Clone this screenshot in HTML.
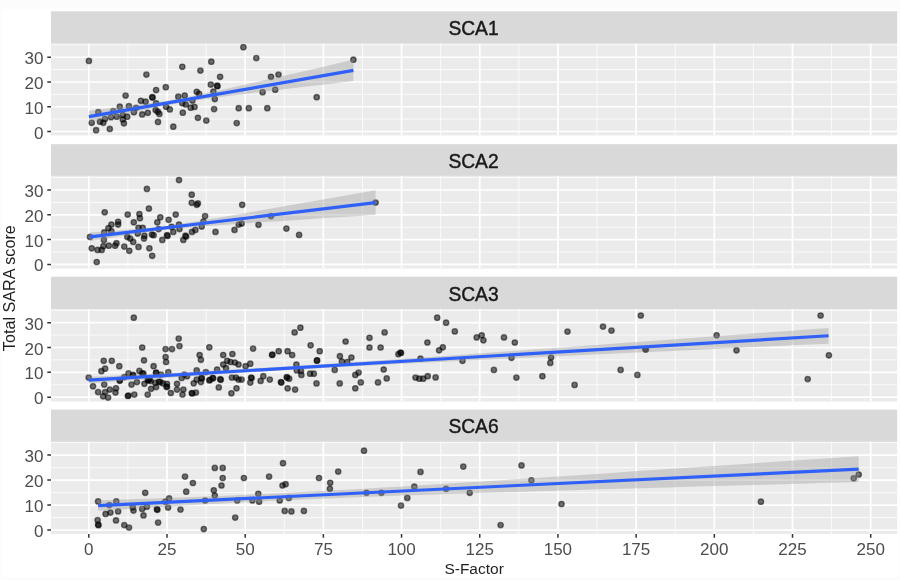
<!DOCTYPE html>
<html><head><meta charset="utf-8"><title>plot</title><style>
html,body{margin:0;padding:0;background:#fcfcfc;width:900px;height:580px;overflow:hidden}
svg{display:block;filter:blur(0.6px)}
text{font-family:"Liberation Sans",sans-serif;}
.tk{font-size:17px;fill:#4d4d4d}
.tt{font-size:15.5px;fill:#1f1f1f}
.st{font-size:21px;fill:#1a1a1a;stroke:#1a1a1a;stroke-width:0.45px}
.p circle{fill:#000;fill-opacity:.55;stroke:#000;stroke-opacity:.5;stroke-width:1.35}
</style></head><body>
<svg width="900" height="580" viewBox="0 0 900 580">
<rect x="0" y="0" width="900" height="580" fill="#fcfcfc"/>
<rect x="2.1" y="9.4" width="896.7" height="567.4" fill="#ffffff"/>
<rect x="51.0" y="11.30" width="846.2" height="32.599999999999994" fill="#d9d9d9"/>
<text class="st" transform="translate(473.5,35.22) scale(0.915,1)" text-anchor="middle">SCA1</text>
<rect x="51.0" y="43.40" width="846.2" height="92.0" fill="#ebebeb"/>
<clipPath id="c0"><rect x="51.0" y="43.40" width="846.2" height="92.0"/></clipPath>
<g clip-path="url(#c0)">
<path d="M51.0 119.12H897.2M51.0 94.38H897.2M51.0 69.62H897.2M51.0 44.88H897.2M127.89 43.40V135.40M206.09 43.40V135.40M284.28 43.40V135.40M362.47 43.40V135.40M440.66 43.40V135.40M518.85 43.40V135.40M597.03 43.40V135.40M675.23 43.40V135.40M753.41 43.40V135.40M831.61 43.40V135.40" stroke="#ffffff" stroke-opacity="0.8" stroke-width="0.95" fill="none"/>
<path d="M51.0 131.50H897.2M51.0 106.75H897.2M51.0 82.00H897.2M51.0 57.25H897.2M88.80 43.40V135.40M166.99 43.40V135.40M245.18 43.40V135.40M323.37 43.40V135.40M401.56 43.40V135.40M479.75 43.40V135.40M557.94 43.40V135.40M636.13 43.40V135.40M714.32 43.40V135.40M792.51 43.40V135.40M870.70 43.40V135.40" stroke="#ffffff" stroke-width="1.7" fill="none"/>
<g class="p">
<circle cx="125.6" cy="95.6" r="2.7"/><circle cx="156.1" cy="90.0" r="2.7"/><circle cx="152.2" cy="97.2" r="2.7"/><circle cx="152.6" cy="97.6" r="2.7"/><circle cx="140.9" cy="100.8" r="2.7"/><circle cx="145.6" cy="101.7" r="2.7"/><circle cx="178.3" cy="96.7" r="2.7"/><circle cx="119.8" cy="106.7" r="2.7"/><circle cx="128.9" cy="106.1" r="2.7"/><circle cx="136.1" cy="107.8" r="2.7"/><circle cx="156.1" cy="103.3" r="2.7"/><circle cx="98.3" cy="112.2" r="2.7"/><circle cx="113.3" cy="111.1" r="2.7"/><circle cx="133.9" cy="112.2" r="2.7"/><circle cx="166.1" cy="106.7" r="2.7"/><circle cx="169.8" cy="109.4" r="2.7"/><circle cx="155.6" cy="110.0" r="2.7"/><circle cx="159.4" cy="113.9" r="2.7"/><circle cx="157.8" cy="111.7" r="2.7"/><circle cx="147.8" cy="112.8" r="2.7"/><circle cx="142.2" cy="114.4" r="2.7"/><circle cx="127.2" cy="116.7" r="2.7"/><circle cx="122.8" cy="115.0" r="2.7"/><circle cx="122.8" cy="119.4" r="2.7"/><circle cx="123.9" cy="123.3" r="2.7"/><circle cx="116.7" cy="116.7" r="2.7"/><circle cx="111.1" cy="117.2" r="2.7"/><circle cx="105.0" cy="118.9" r="2.7"/><circle cx="103.3" cy="122.8" r="2.7"/><circle cx="100.0" cy="121.7" r="2.7"/><circle cx="91.7" cy="122.8" r="2.7"/><circle cx="96.1" cy="130.2" r="2.7"/><circle cx="109.8" cy="128.9" r="2.7"/><circle cx="158.0" cy="121.9" r="2.7"/><circle cx="173.3" cy="126.7" r="2.7"/><circle cx="88.9" cy="60.9" r="2.7"/><circle cx="211.3" cy="61.7" r="2.7"/><circle cx="182.3" cy="66.8" r="2.7"/><circle cx="200.4" cy="70.6" r="2.7"/><circle cx="146.4" cy="74.6" r="2.7"/><circle cx="220.1" cy="76.8" r="2.7"/><circle cx="210.8" cy="84.5" r="2.7"/><circle cx="217.1" cy="85.7" r="2.7"/><circle cx="217.5" cy="86.2" r="2.7"/><circle cx="165.8" cy="87.2" r="2.7"/><circle cx="196.7" cy="91.8" r="2.7"/><circle cx="199.1" cy="93.8" r="2.7"/><circle cx="213.4" cy="91.5" r="2.7"/><circle cx="214.8" cy="99.0" r="2.7"/><circle cx="192.4" cy="100.5" r="2.7"/><circle cx="182.3" cy="103.2" r="2.7"/><circle cx="185.7" cy="104.4" r="2.7"/><circle cx="190.7" cy="107.7" r="2.7"/><circle cx="194.5" cy="106.9" r="2.7"/><circle cx="214.1" cy="109.1" r="2.7"/><circle cx="182.8" cy="112.7" r="2.7"/><circle cx="197.9" cy="117.8" r="2.7"/><circle cx="206.3" cy="120.6" r="2.7"/><circle cx="184.7" cy="95.5" r="2.7"/><circle cx="243.4" cy="47.2" r="2.7"/><circle cx="256.3" cy="58.1" r="2.7"/><circle cx="353.4" cy="59.7" r="2.7"/><circle cx="278.5" cy="74.6" r="2.7"/><circle cx="271.0" cy="76.8" r="2.7"/><circle cx="275.2" cy="89.7" r="2.7"/><circle cx="262.6" cy="92.2" r="2.7"/><circle cx="316.7" cy="97.2" r="2.7"/><circle cx="238.7" cy="108.2" r="2.7"/><circle cx="248.8" cy="108.2" r="2.7"/><circle cx="267.3" cy="108.2" r="2.7"/><circle cx="236.7" cy="123.1" r="2.7"/>
</g>
<path d="M88.9 110.92L95.5 110.12L102.1 109.31L108.7 108.50L115.4 107.68L122.0 106.85L128.6 106.00L135.2 105.14L141.8 104.26L148.4 103.35L155.0 102.41L161.6 101.42L168.2 100.38L174.9 99.28L181.5 98.11L188.1 96.88L194.7 95.59L201.3 94.25L207.9 92.87L214.5 91.46L221.2 90.03L227.8 88.57L234.4 87.10L241.0 85.61L247.6 84.12L254.2 82.62L260.8 81.12L267.4 79.60L274.0 78.09L280.7 76.57L287.3 75.05L293.9 73.53L300.5 72.00L307.1 70.47L313.7 68.94L320.3 67.41L327.0 65.88L333.6 64.35L340.2 62.81L346.8 61.28L353.4 59.74L353.4 81.06L346.8 81.83L340.2 82.61L333.6 83.38L327.0 84.16L320.3 84.94L313.7 85.72L307.1 86.50L300.5 87.28L293.9 88.06L287.3 88.85L280.7 89.64L274.0 90.43L267.4 91.23L260.8 92.02L254.2 92.83L247.6 93.64L241.0 94.46L234.4 95.28L227.8 96.12L221.2 96.97L214.5 97.85L207.9 98.75L201.3 99.68L194.7 100.65L188.1 101.67L181.5 102.75L174.9 103.89L168.2 105.10L161.6 106.37L155.0 107.69L148.4 109.06L141.8 110.46L135.2 111.89L128.6 113.34L122.0 114.80L115.4 116.28L108.7 117.77L102.1 119.27L95.5 120.77L88.9 122.28Z" fill="#999999" fill-opacity="0.37"/>
<line x1="88.9" y1="116.6" x2="353.4" y2="70.4" stroke="#2f60f8" stroke-width="3.15"/>
</g>
<text class="tk" x="43.4" y="138.52" text-anchor="end">0</text>
<text class="tk" x="43.4" y="113.77" text-anchor="end">10</text>
<text class="tk" x="43.4" y="89.02" text-anchor="end">20</text>
<text class="tk" x="43.4" y="64.27" text-anchor="end">30</text>
<path d="M47.30 131.50H51.0M47.30 106.75H51.0M47.30 82.00H51.0M47.30 57.25H51.0" stroke="#333333" stroke-width="1.5" fill="none"/>
<rect x="51.0" y="144.20" width="846.2" height="32.0" fill="#d9d9d9"/>
<text class="st" transform="translate(473.5,167.82) scale(0.915,1)" text-anchor="middle">SCA2</text>
<rect x="51.0" y="175.70" width="846.2" height="92.90000000000003" fill="#ebebeb"/>
<clipPath id="c1"><rect x="51.0" y="175.70" width="846.2" height="92.90000000000003"/></clipPath>
<g clip-path="url(#c1)">
<path d="M51.0 252.00H897.2M51.0 227.20H897.2M51.0 202.40H897.2M51.0 177.60H897.2M127.89 175.70V268.60M206.09 175.70V268.60M284.28 175.70V268.60M362.47 175.70V268.60M440.66 175.70V268.60M518.85 175.70V268.60M597.03 175.70V268.60M675.23 175.70V268.60M753.41 175.70V268.60M831.61 175.70V268.60" stroke="#ffffff" stroke-opacity="0.8" stroke-width="0.95" fill="none"/>
<path d="M51.0 264.40H897.2M51.0 239.60H897.2M51.0 214.80H897.2M51.0 190.00H897.2M88.80 175.70V268.60M166.99 175.70V268.60M245.18 175.70V268.60M323.37 175.70V268.60M401.56 175.70V268.60M479.75 175.70V268.60M557.94 175.70V268.60M636.13 175.70V268.60M714.32 175.70V268.60M792.51 175.70V268.60M870.70 175.70V268.60" stroke="#ffffff" stroke-width="1.7" fill="none"/>
<g class="p">
<circle cx="179.0" cy="180.0" r="2.7"/><circle cx="146.9" cy="188.9" r="2.7"/><circle cx="191.7" cy="194.7" r="2.7"/><circle cx="191.7" cy="202.8" r="2.7"/><circle cx="197.9" cy="203.4" r="2.7"/><circle cx="196.7" cy="204.8" r="2.7"/><circle cx="104.7" cy="212.3" r="2.7"/><circle cx="148.9" cy="208.5" r="2.7"/><circle cx="127.7" cy="214.5" r="2.7"/><circle cx="139.4" cy="214.0" r="2.7"/><circle cx="139.9" cy="218.2" r="2.7"/><circle cx="175.7" cy="214.5" r="2.7"/><circle cx="160.3" cy="217.3" r="2.7"/><circle cx="205.1" cy="216.1" r="2.7"/><circle cx="168.6" cy="219.8" r="2.7"/><circle cx="157.3" cy="222.3" r="2.7"/><circle cx="133.8" cy="222.3" r="2.7"/><circle cx="118.1" cy="221.8" r="2.7"/><circle cx="118.1" cy="224.5" r="2.7"/><circle cx="111.4" cy="224.5" r="2.7"/><circle cx="108.4" cy="228.2" r="2.7"/><circle cx="111.4" cy="231.2" r="2.7"/><circle cx="104.2" cy="232.4" r="2.7"/><circle cx="203.4" cy="221.5" r="2.7"/><circle cx="201.7" cy="226.5" r="2.7"/><circle cx="179.0" cy="224.5" r="2.7"/><circle cx="179.5" cy="229.0" r="2.7"/><circle cx="171.6" cy="226.8" r="2.7"/><circle cx="173.3" cy="231.9" r="2.7"/><circle cx="138.5" cy="227.8" r="2.7"/><circle cx="142.7" cy="227.8" r="2.7"/><circle cx="158.6" cy="229.0" r="2.7"/><circle cx="137.7" cy="233.5" r="2.7"/><circle cx="144.4" cy="235.7" r="2.7"/><circle cx="144.0" cy="238.6" r="2.7"/><circle cx="151.9" cy="234.5" r="2.7"/><circle cx="153.6" cy="235.2" r="2.7"/><circle cx="167.0" cy="235.2" r="2.7"/><circle cx="167.6" cy="235.9" r="2.7"/><circle cx="195.4" cy="229.9" r="2.7"/><circle cx="192.0" cy="231.9" r="2.7"/><circle cx="215.5" cy="231.9" r="2.7"/><circle cx="185.4" cy="235.7" r="2.7"/><circle cx="186.2" cy="236.5" r="2.7"/><circle cx="183.3" cy="239.9" r="2.7"/><circle cx="162.3" cy="239.9" r="2.7"/><circle cx="90.0" cy="236.9" r="2.7"/><circle cx="103.9" cy="239.9" r="2.7"/><circle cx="127.3" cy="236.9" r="2.7"/><circle cx="130.2" cy="238.6" r="2.7"/><circle cx="133.2" cy="241.9" r="2.7"/><circle cx="116.5" cy="243.2" r="2.7"/><circle cx="115.1" cy="245.7" r="2.7"/><circle cx="108.8" cy="245.7" r="2.7"/><circle cx="103.4" cy="246.2" r="2.7"/><circle cx="101.7" cy="249.9" r="2.7"/><circle cx="97.6" cy="249.9" r="2.7"/><circle cx="91.7" cy="248.3" r="2.7"/><circle cx="124.3" cy="246.6" r="2.7"/><circle cx="129.3" cy="250.8" r="2.7"/><circle cx="138.5" cy="246.9" r="2.7"/><circle cx="149.4" cy="248.3" r="2.7"/><circle cx="152.2" cy="255.8" r="2.7"/><circle cx="96.7" cy="262.0" r="2.7"/><circle cx="242.2" cy="204.8" r="2.7"/><circle cx="271.0" cy="216.1" r="2.7"/><circle cx="241.7" cy="223.5" r="2.7"/><circle cx="238.7" cy="224.5" r="2.7"/><circle cx="234.5" cy="229.9" r="2.7"/><circle cx="258.5" cy="224.8" r="2.7"/><circle cx="286.4" cy="228.5" r="2.7"/><circle cx="299.1" cy="234.9" r="2.7"/><circle cx="375.6" cy="202.6" r="2.7"/>
</g>
<path d="M90.0 232.50L97.1 231.99L104.3 231.48L111.4 230.95L118.6 230.41L125.7 229.84L132.8 229.24L140.0 228.60L147.1 227.91L154.3 227.16L161.4 226.32L168.5 225.41L175.7 224.43L182.8 223.38L190.0 222.28L197.1 221.15L204.2 220.00L211.4 218.82L218.5 217.63L225.7 216.42L232.8 215.21L239.9 213.99L247.1 212.76L254.2 211.53L261.4 210.30L268.5 209.07L275.6 207.83L282.8 206.59L289.9 205.34L297.1 204.10L304.2 202.86L311.3 201.61L318.5 200.36L325.6 199.11L332.8 197.87L339.9 196.62L347.0 195.37L354.2 194.12L361.3 192.87L368.5 191.61L375.6 190.36L375.6 214.84L368.5 215.30L361.3 215.76L354.2 216.23L347.0 216.69L339.9 217.16L332.8 217.62L325.6 218.09L318.5 218.56L311.3 219.03L304.2 219.49L297.1 219.96L289.9 220.44L282.8 220.91L275.6 221.38L268.5 221.86L261.4 222.34L254.2 222.82L247.1 223.31L239.9 223.80L232.8 224.29L225.7 224.79L218.5 225.30L211.4 225.83L204.2 226.36L197.1 226.92L190.0 227.51L182.8 228.13L175.7 228.79L168.5 229.52L161.4 230.33L154.3 231.21L147.1 232.17L140.0 233.19L132.8 234.27L125.7 235.39L118.6 236.53L111.4 237.70L104.3 238.89L97.1 240.09L90.0 241.30Z" fill="#999999" fill-opacity="0.37"/>
<line x1="90.0" y1="236.9" x2="375.6" y2="202.6" stroke="#2f60f8" stroke-width="3.15"/>
</g>
<text class="tk" x="43.4" y="271.42" text-anchor="end">0</text>
<text class="tk" x="43.4" y="246.62" text-anchor="end">10</text>
<text class="tk" x="43.4" y="221.82" text-anchor="end">20</text>
<text class="tk" x="43.4" y="197.02" text-anchor="end">30</text>
<path d="M47.30 264.40H51.0M47.30 239.60H51.0M47.30 214.80H51.0M47.30 190.00H51.0" stroke="#333333" stroke-width="1.5" fill="none"/>
<rect x="51.0" y="276.70" width="846.2" height="32.80000000000001" fill="#d9d9d9"/>
<text class="st" transform="translate(473.5,300.72) scale(0.915,1)" text-anchor="middle">SCA3</text>
<rect x="51.0" y="309.00" width="846.2" height="92.60000000000002" fill="#ebebeb"/>
<clipPath id="c2"><rect x="51.0" y="309.00" width="846.2" height="92.60000000000002"/></clipPath>
<g clip-path="url(#c2)">
<path d="M51.0 384.77H897.2M51.0 359.93H897.2M51.0 335.07H897.2M51.0 310.23H897.2M127.89 309.00V401.60M206.09 309.00V401.60M284.28 309.00V401.60M362.47 309.00V401.60M440.66 309.00V401.60M518.85 309.00V401.60M597.03 309.00V401.60M675.23 309.00V401.60M753.41 309.00V401.60M831.61 309.00V401.60" stroke="#ffffff" stroke-opacity="0.8" stroke-width="0.95" fill="none"/>
<path d="M51.0 397.20H897.2M51.0 372.35H897.2M51.0 347.50H897.2M51.0 322.65H897.2M88.80 309.00V401.60M166.99 309.00V401.60M245.18 309.00V401.60M323.37 309.00V401.60M401.56 309.00V401.60M479.75 309.00V401.60M557.94 309.00V401.60M636.13 309.00V401.60M714.32 309.00V401.60M792.51 309.00V401.60M870.70 309.00V401.60" stroke="#ffffff" stroke-width="1.7" fill="none"/>
<g class="p">
<circle cx="133.8" cy="317.7" r="2.7"/><circle cx="142.2" cy="347.5" r="2.7"/><circle cx="178.7" cy="338.6" r="2.7"/><circle cx="179.5" cy="346.1" r="2.7"/><circle cx="165.6" cy="349.1" r="2.7"/><circle cx="172.0" cy="349.1" r="2.7"/><circle cx="165.6" cy="357.0" r="2.7"/><circle cx="166.1" cy="362.0" r="2.7"/><circle cx="103.7" cy="360.8" r="2.7"/><circle cx="111.8" cy="360.8" r="2.7"/><circle cx="144.0" cy="360.3" r="2.7"/><circle cx="119.3" cy="366.2" r="2.7"/><circle cx="153.6" cy="366.2" r="2.7"/><circle cx="105.1" cy="368.7" r="2.7"/><circle cx="101.4" cy="371.2" r="2.7"/><circle cx="139.4" cy="370.9" r="2.7"/><circle cx="156.1" cy="372.6" r="2.7"/><circle cx="168.3" cy="372.1" r="2.7"/><circle cx="128.5" cy="373.4" r="2.7"/><circle cx="133.2" cy="374.9" r="2.7"/><circle cx="143.5" cy="373.7" r="2.7"/><circle cx="161.1" cy="374.6" r="2.7"/><circle cx="88.7" cy="377.6" r="2.7"/><circle cx="124.3" cy="377.1" r="2.7"/><circle cx="119.8" cy="380.1" r="2.7"/><circle cx="147.7" cy="380.4" r="2.7"/><circle cx="148.5" cy="380.0" r="2.7"/><circle cx="149.4" cy="379.6" r="2.7"/><circle cx="136.9" cy="382.1" r="2.7"/><circle cx="131.5" cy="384.6" r="2.7"/><circle cx="144.4" cy="383.8" r="2.7"/><circle cx="104.2" cy="384.6" r="2.7"/><circle cx="93.0" cy="386.3" r="2.7"/><circle cx="155.3" cy="382.9" r="2.7"/><circle cx="160.3" cy="382.1" r="2.7"/><circle cx="167.0" cy="383.8" r="2.7"/><circle cx="167.0" cy="387.1" r="2.7"/><circle cx="166.5" cy="386.5" r="2.7"/><circle cx="177.0" cy="383.8" r="2.7"/><circle cx="177.0" cy="389.6" r="2.7"/><circle cx="156.1" cy="387.1" r="2.7"/><circle cx="151.1" cy="388.8" r="2.7"/><circle cx="116.0" cy="388.3" r="2.7"/><circle cx="109.8" cy="389.6" r="2.7"/><circle cx="98.1" cy="392.1" r="2.7"/><circle cx="105.1" cy="392.1" r="2.7"/><circle cx="115.5" cy="392.6" r="2.7"/><circle cx="103.1" cy="396.3" r="2.7"/><circle cx="108.1" cy="397.6" r="2.7"/><circle cx="128.5" cy="395.5" r="2.7"/><circle cx="127.8" cy="396.0" r="2.7"/><circle cx="134.3" cy="394.6" r="2.7"/><circle cx="147.7" cy="394.6" r="2.7"/><circle cx="170.8" cy="393.0" r="2.7"/><circle cx="209.3" cy="347.3" r="2.7"/><circle cx="253.1" cy="348.6" r="2.7"/><circle cx="199.6" cy="355.0" r="2.7"/><circle cx="223.2" cy="355.0" r="2.7"/><circle cx="232.4" cy="354.0" r="2.7"/><circle cx="272.5" cy="354.5" r="2.7"/><circle cx="272.0" cy="355.0" r="2.7"/><circle cx="200.9" cy="359.8" r="2.7"/><circle cx="227.2" cy="360.8" r="2.7"/><circle cx="230.5" cy="362.0" r="2.7"/><circle cx="234.9" cy="362.5" r="2.7"/><circle cx="223.2" cy="364.5" r="2.7"/><circle cx="238.5" cy="364.5" r="2.7"/><circle cx="250.3" cy="363.7" r="2.7"/><circle cx="245.6" cy="366.2" r="2.7"/><circle cx="226.0" cy="368.2" r="2.7"/><circle cx="217.1" cy="369.5" r="2.7"/><circle cx="196.7" cy="370.4" r="2.7"/><circle cx="205.9" cy="372.1" r="2.7"/><circle cx="184.2" cy="374.6" r="2.7"/><circle cx="181.7" cy="377.9" r="2.7"/><circle cx="187.0" cy="376.2" r="2.7"/><circle cx="196.7" cy="379.6" r="2.7"/><circle cx="201.4" cy="377.9" r="2.7"/><circle cx="201.9" cy="378.4" r="2.7"/><circle cx="200.9" cy="382.1" r="2.7"/><circle cx="193.7" cy="383.3" r="2.7"/><circle cx="209.3" cy="380.4" r="2.7"/><circle cx="210.0" cy="379.8" r="2.7"/><circle cx="212.6" cy="377.9" r="2.7"/><circle cx="213.2" cy="378.3" r="2.7"/><circle cx="220.2" cy="379.2" r="2.7"/><circle cx="220.8" cy="379.8" r="2.7"/><circle cx="231.9" cy="377.6" r="2.7"/><circle cx="236.0" cy="377.6" r="2.7"/><circle cx="238.5" cy="379.6" r="2.7"/><circle cx="241.6" cy="379.6" r="2.7"/><circle cx="251.1" cy="377.6" r="2.7"/><circle cx="251.6" cy="378.0" r="2.7"/><circle cx="250.3" cy="382.6" r="2.7"/><circle cx="263.3" cy="376.2" r="2.7"/><circle cx="260.6" cy="380.9" r="2.7"/><circle cx="269.8" cy="379.6" r="2.7"/><circle cx="183.4" cy="389.6" r="2.7"/><circle cx="182.5" cy="394.6" r="2.7"/><circle cx="191.7" cy="393.0" r="2.7"/><circle cx="192.3" cy="393.5" r="2.7"/><circle cx="195.9" cy="392.6" r="2.7"/><circle cx="218.8" cy="387.4" r="2.7"/><circle cx="236.5" cy="388.3" r="2.7"/><circle cx="231.4" cy="393.3" r="2.7"/><circle cx="300.4" cy="327.7" r="2.7"/><circle cx="294.6" cy="332.4" r="2.7"/><circle cx="345.6" cy="341.5" r="2.7"/><circle cx="369.5" cy="337.8" r="2.7"/><circle cx="369.5" cy="347.5" r="2.7"/><circle cx="310.6" cy="345.3" r="2.7"/><circle cx="278.7" cy="351.2" r="2.7"/><circle cx="287.6" cy="351.2" r="2.7"/><circle cx="292.2" cy="355.0" r="2.7"/><circle cx="319.7" cy="351.2" r="2.7"/><circle cx="317.2" cy="360.3" r="2.7"/><circle cx="316.8" cy="360.7" r="2.7"/><circle cx="339.9" cy="356.2" r="2.7"/><circle cx="351.4" cy="357.5" r="2.7"/><circle cx="341.9" cy="361.5" r="2.7"/><circle cx="347.3" cy="362.0" r="2.7"/><circle cx="296.4" cy="364.5" r="2.7"/><circle cx="296.8" cy="370.4" r="2.7"/><circle cx="300.9" cy="370.9" r="2.7"/><circle cx="301.4" cy="374.9" r="2.7"/><circle cx="310.1" cy="373.7" r="2.7"/><circle cx="313.8" cy="373.7" r="2.7"/><circle cx="334.7" cy="369.9" r="2.7"/><circle cx="358.6" cy="372.6" r="2.7"/><circle cx="355.3" cy="374.9" r="2.7"/><circle cx="286.7" cy="377.1" r="2.7"/><circle cx="287.2" cy="377.6" r="2.7"/><circle cx="289.2" cy="378.7" r="2.7"/><circle cx="280.9" cy="382.1" r="2.7"/><circle cx="281.4" cy="382.6" r="2.7"/><circle cx="316.5" cy="383.4" r="2.7"/><circle cx="339.7" cy="383.4" r="2.7"/><circle cx="360.8" cy="382.4" r="2.7"/><circle cx="287.6" cy="388.3" r="2.7"/><circle cx="295.1" cy="389.6" r="2.7"/><circle cx="355.3" cy="388.3" r="2.7"/><circle cx="437.2" cy="317.7" r="2.7"/><circle cx="446.1" cy="322.7" r="2.7"/><circle cx="454.8" cy="331.4" r="2.7"/><circle cx="384.6" cy="332.4" r="2.7"/><circle cx="427.4" cy="342.5" r="2.7"/><circle cx="380.6" cy="347.5" r="2.7"/><circle cx="442.8" cy="347.3" r="2.7"/><circle cx="439.1" cy="350.3" r="2.7"/><circle cx="400.5" cy="352.5" r="2.7"/><circle cx="401.0" cy="353.0" r="2.7"/><circle cx="398.4" cy="354.2" r="2.7"/><circle cx="420.5" cy="358.7" r="2.7"/><circle cx="462.5" cy="360.8" r="2.7"/><circle cx="383.7" cy="369.5" r="2.7"/><circle cx="386.7" cy="378.4" r="2.7"/><circle cx="378.0" cy="382.4" r="2.7"/><circle cx="415.5" cy="377.6" r="2.7"/><circle cx="419.3" cy="378.7" r="2.7"/><circle cx="423.2" cy="378.7" r="2.7"/><circle cx="427.7" cy="376.2" r="2.7"/><circle cx="435.6" cy="377.4" r="2.7"/><circle cx="481.7" cy="335.3" r="2.7"/><circle cx="476.7" cy="337.4" r="2.7"/><circle cx="483.4" cy="340.3" r="2.7"/><circle cx="504.0" cy="337.4" r="2.7"/><circle cx="514.8" cy="342.5" r="2.7"/><circle cx="511.5" cy="357.8" r="2.7"/><circle cx="551.1" cy="357.5" r="2.7"/><circle cx="550.3" cy="362.9" r="2.7"/><circle cx="493.9" cy="369.9" r="2.7"/><circle cx="516.4" cy="377.6" r="2.7"/><circle cx="542.4" cy="376.2" r="2.7"/><circle cx="640.8" cy="315.5" r="2.7"/><circle cx="603.0" cy="326.6" r="2.7"/><circle cx="611.5" cy="330.6" r="2.7"/><circle cx="567.5" cy="331.6" r="2.7"/><circle cx="645.3" cy="349.1" r="2.7"/><circle cx="645.9" cy="349.5" r="2.7"/><circle cx="620.6" cy="369.9" r="2.7"/><circle cx="637.4" cy="374.9" r="2.7"/><circle cx="574.6" cy="384.9" r="2.7"/><circle cx="132.8" cy="375.6" r="2.7"/><circle cx="156.1" cy="372.8" r="2.7"/><circle cx="142.2" cy="373.3" r="2.7"/><circle cx="119.7" cy="380.8" r="2.7"/><circle cx="150.6" cy="381.1" r="2.7"/><circle cx="158.9" cy="381.7" r="2.7"/><circle cx="162.8" cy="383.3" r="2.7"/><circle cx="716.6" cy="335.3" r="2.7"/><circle cx="736.5" cy="350.3" r="2.7"/><circle cx="820.6" cy="315.5" r="2.7"/><circle cx="828.9" cy="355.3" r="2.7"/><circle cx="807.7" cy="379.1" r="2.7"/>
</g>
<path d="M88.7 376.85L107.2 375.95L125.7 375.05L144.2 374.14L162.7 373.21L181.2 372.28L199.7 371.32L218.2 370.34L236.7 369.33L255.2 368.29L273.7 367.22L292.2 366.11L310.7 364.97L329.2 363.79L347.7 362.57L366.2 361.34L384.7 360.08L403.2 358.80L421.7 357.51L440.2 356.20L458.6 354.89L477.1 353.57L495.6 352.24L514.1 350.91L532.6 349.58L551.1 348.24L569.6 346.89L588.1 345.55L606.6 344.20L625.1 342.85L643.6 341.50L662.1 340.15L680.6 338.80L699.1 337.44L717.6 336.09L736.1 334.73L754.6 333.37L773.1 332.02L791.6 330.66L810.1 329.30L828.6 327.94L828.6 343.66L810.1 344.52L791.6 345.37L773.1 346.23L754.6 347.09L736.1 347.94L717.6 348.80L699.1 349.66L680.6 350.52L662.1 351.39L643.6 352.25L625.1 353.11L606.6 353.98L588.1 354.85L569.6 355.72L551.1 356.59L532.6 357.46L514.1 358.34L495.6 359.23L477.1 360.11L458.6 361.01L440.2 361.91L421.7 362.82L403.2 363.75L384.7 364.68L366.2 365.64L347.7 366.62L329.2 367.62L310.7 368.65L292.2 369.72L273.7 370.83L255.2 371.97L236.7 373.15L218.2 374.36L199.7 375.59L181.2 376.85L162.7 378.13L144.2 379.42L125.7 380.72L107.2 382.03L88.7 383.35Z" fill="#999999" fill-opacity="0.37"/>
<line x1="88.7" y1="380.1" x2="828.6" y2="335.8" stroke="#2f60f8" stroke-width="3.15"/>
</g>
<text class="tk" x="43.4" y="404.22" text-anchor="end">0</text>
<text class="tk" x="43.4" y="379.37" text-anchor="end">10</text>
<text class="tk" x="43.4" y="354.52" text-anchor="end">20</text>
<text class="tk" x="43.4" y="329.67" text-anchor="end">30</text>
<path d="M47.30 397.20H51.0M47.30 372.35H51.0M47.30 347.50H51.0M47.30 322.65H51.0" stroke="#333333" stroke-width="1.5" fill="none"/>
<rect x="51.0" y="409.60" width="846.2" height="32.5" fill="#d9d9d9"/>
<text class="st" transform="translate(473.5,433.47) scale(0.915,1)" text-anchor="middle">SCA6</text>
<rect x="51.0" y="441.60" width="846.2" height="92.39999999999998" fill="#ebebeb"/>
<clipPath id="c3"><rect x="51.0" y="441.60" width="846.2" height="92.39999999999998"/></clipPath>
<g clip-path="url(#c3)">
<path d="M51.0 517.60H897.2M51.0 492.60H897.2M51.0 467.60H897.2M51.0 442.60H897.2M127.89 441.60V534.00M206.09 441.60V534.00M284.28 441.60V534.00M362.47 441.60V534.00M440.66 441.60V534.00M518.85 441.60V534.00M597.03 441.60V534.00M675.23 441.60V534.00M753.41 441.60V534.00M831.61 441.60V534.00" stroke="#ffffff" stroke-opacity="0.8" stroke-width="0.95" fill="none"/>
<path d="M51.0 530.10H897.2M51.0 505.10H897.2M51.0 480.10H897.2M51.0 455.10H897.2M88.80 441.60V534.00M166.99 441.60V534.00M245.18 441.60V534.00M323.37 441.60V534.00M401.56 441.60V534.00M479.75 441.60V534.00M557.94 441.60V534.00M636.13 441.60V534.00M714.32 441.60V534.00M792.51 441.60V534.00M870.70 441.60V534.00" stroke="#ffffff" stroke-width="1.7" fill="none"/>
<g class="p">
<circle cx="145.2" cy="492.8" r="2.7"/><circle cx="169.1" cy="498.4" r="2.7"/><circle cx="165.3" cy="501.7" r="2.7"/><circle cx="98.1" cy="501.4" r="2.7"/><circle cx="116.3" cy="501.4" r="2.7"/><circle cx="109.3" cy="505.1" r="2.7"/><circle cx="132.7" cy="507.2" r="2.7"/><circle cx="146.9" cy="506.7" r="2.7"/><circle cx="142.2" cy="508.9" r="2.7"/><circle cx="133.5" cy="510.6" r="2.7"/><circle cx="156.9" cy="509.2" r="2.7"/><circle cx="157.4" cy="509.8" r="2.7"/><circle cx="168.1" cy="507.6" r="2.7"/><circle cx="180.5" cy="509.6" r="2.7"/><circle cx="118.1" cy="511.4" r="2.7"/><circle cx="110.4" cy="512.6" r="2.7"/><circle cx="105.6" cy="513.9" r="2.7"/><circle cx="143.5" cy="515.4" r="2.7"/><circle cx="97.6" cy="520.1" r="2.7"/><circle cx="98.1" cy="524.6" r="2.7"/><circle cx="98.5" cy="525.2" r="2.7"/><circle cx="116.0" cy="520.4" r="2.7"/><circle cx="124.3" cy="525.1" r="2.7"/><circle cx="129.0" cy="527.6" r="2.7"/><circle cx="158.1" cy="522.6" r="2.7"/><circle cx="214.8" cy="467.9" r="2.7"/><circle cx="222.7" cy="467.9" r="2.7"/><circle cx="185.0" cy="476.6" r="2.7"/><circle cx="222.7" cy="478.0" r="2.7"/><circle cx="243.9" cy="478.0" r="2.7"/><circle cx="269.1" cy="476.6" r="2.7"/><circle cx="192.9" cy="483.0" r="2.7"/><circle cx="221.5" cy="485.5" r="2.7"/><circle cx="213.8" cy="490.3" r="2.7"/><circle cx="186.2" cy="491.7" r="2.7"/><circle cx="214.8" cy="495.5" r="2.7"/><circle cx="258.3" cy="493.8" r="2.7"/><circle cx="205.1" cy="500.5" r="2.7"/><circle cx="237.2" cy="500.5" r="2.7"/><circle cx="252.4" cy="500.5" r="2.7"/><circle cx="259.1" cy="501.7" r="2.7"/><circle cx="235.2" cy="517.6" r="2.7"/><circle cx="203.8" cy="529.0" r="2.7"/><circle cx="364.0" cy="450.7" r="2.7"/><circle cx="283.0" cy="463.2" r="2.7"/><circle cx="338.2" cy="471.6" r="2.7"/><circle cx="319.0" cy="478.0" r="2.7"/><circle cx="330.2" cy="482.8" r="2.7"/><circle cx="285.6" cy="484.2" r="2.7"/><circle cx="282.5" cy="485.5" r="2.7"/><circle cx="329.9" cy="488.8" r="2.7"/><circle cx="366.5" cy="492.8" r="2.7"/><circle cx="288.9" cy="497.9" r="2.7"/><circle cx="279.7" cy="500.5" r="2.7"/><circle cx="284.7" cy="510.9" r="2.7"/><circle cx="291.4" cy="511.4" r="2.7"/><circle cx="303.9" cy="510.9" r="2.7"/><circle cx="463.3" cy="466.6" r="2.7"/><circle cx="420.5" cy="471.9" r="2.7"/><circle cx="414.3" cy="486.7" r="2.7"/><circle cx="446.1" cy="488.8" r="2.7"/><circle cx="381.4" cy="492.8" r="2.7"/><circle cx="407.3" cy="497.9" r="2.7"/><circle cx="401.0" cy="505.6" r="2.7"/><circle cx="521.5" cy="465.4" r="2.7"/><circle cx="531.4" cy="480.3" r="2.7"/><circle cx="469.7" cy="492.8" r="2.7"/><circle cx="500.6" cy="525.1" r="2.7"/><circle cx="561.5" cy="504.0" r="2.7"/><circle cx="760.9" cy="501.7" r="2.7"/><circle cx="858.7" cy="474.5" r="2.7"/><circle cx="853.7" cy="478.3" r="2.7"/>
</g>
<path d="M98.1 500.36L117.1 499.73L136.1 499.07L155.1 498.40L174.2 497.70L193.2 496.97L212.2 496.21L231.2 495.41L250.2 494.57L269.2 493.69L288.2 492.76L307.3 491.79L326.3 490.78L345.3 489.73L364.3 488.65L383.3 487.54L402.3 486.39L421.4 485.23L440.4 484.05L459.4 482.85L478.4 481.64L497.4 480.41L516.4 479.17L535.4 477.93L554.5 476.68L573.5 475.42L592.5 474.16L611.5 472.89L630.5 471.62L649.5 470.34L668.6 469.06L687.6 467.78L706.6 466.49L725.6 465.20L744.6 463.91L763.6 462.62L782.6 461.33L801.7 460.04L820.7 458.74L839.7 457.44L858.7 456.14L858.7 482.06L839.7 482.58L820.7 483.11L801.7 483.64L782.6 484.17L763.6 484.70L744.6 485.24L725.6 485.77L706.6 486.31L687.6 486.85L668.6 487.39L649.5 487.94L630.5 488.48L611.5 489.04L592.5 489.59L573.5 490.15L554.5 490.72L535.4 491.29L516.4 491.88L497.4 492.46L478.4 493.06L459.4 493.68L440.4 494.30L421.4 494.94L402.3 495.61L383.3 496.29L364.3 497.00L345.3 497.74L326.3 498.52L307.3 499.33L288.2 500.19L269.2 501.09L250.2 502.03L231.2 503.02L212.2 504.04L193.2 505.11L174.2 506.20L155.1 507.33L136.1 508.48L117.1 509.65L98.1 510.84Z" fill="#999999" fill-opacity="0.37"/>
<line x1="98.1" y1="505.6" x2="858.7" y2="469.1" stroke="#2f60f8" stroke-width="3.15"/>
</g>
<text class="tk" x="43.4" y="537.12" text-anchor="end">0</text>
<text class="tk" x="43.4" y="512.12" text-anchor="end">10</text>
<text class="tk" x="43.4" y="487.12" text-anchor="end">20</text>
<text class="tk" x="43.4" y="462.12" text-anchor="end">30</text>
<path d="M47.30 530.10H51.0M47.30 505.10H51.0M47.30 480.10H51.0M47.30 455.10H51.0" stroke="#333333" stroke-width="1.5" fill="none"/>
<text class="tk" x="88.8" y="554.74" text-anchor="middle">0</text>
<text class="tk" x="167.0" y="554.74" text-anchor="middle">25</text>
<text class="tk" x="245.2" y="554.74" text-anchor="middle">50</text>
<text class="tk" x="323.4" y="554.74" text-anchor="middle">75</text>
<text class="tk" x="401.6" y="554.74" text-anchor="middle">100</text>
<text class="tk" x="479.8" y="554.74" text-anchor="middle">125</text>
<text class="tk" x="557.9" y="554.74" text-anchor="middle">150</text>
<text class="tk" x="636.1" y="554.74" text-anchor="middle">175</text>
<text class="tk" x="714.3" y="554.74" text-anchor="middle">200</text>
<text class="tk" x="792.5" y="554.74" text-anchor="middle">225</text>
<text class="tk" x="870.7" y="554.74" text-anchor="middle">250</text>
<path d="M88.80 534.00V537.70M166.99 534.00V537.70M245.18 534.00V537.70M323.37 534.00V537.70M401.56 534.00V537.70M479.75 534.00V537.70M557.94 534.00V537.70M636.13 534.00V537.70M714.32 534.00V537.70M792.51 534.00V537.70M870.70 534.00V537.70" stroke="#333333" stroke-width="1.5" fill="none"/>
<text class="tt" x="474.1" y="574.3" text-anchor="middle">S-Factor</text>
<text class="tt" style="font-size:16.2px" transform="translate(15.3,288.2) rotate(-90)" text-anchor="middle">Total SARA score</text>
</svg></body></html>
